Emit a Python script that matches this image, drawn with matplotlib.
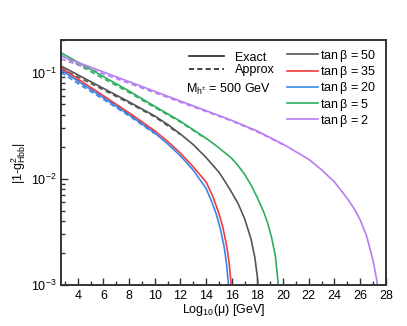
import numpy as np
import matplotlib
matplotlib.use("Agg")
import matplotlib.pyplot as plt
from matplotlib.ticker import MultipleLocator, LogLocator, NullFormatter

plt.rcParams['font.family'] = ['Liberation Sans', 'DejaVu Sans']
plt.rcParams['mathtext.default'] = 'regular'

# exact curves
x_50 = [2.7, 5, 8, 10, 11, 12, 13, 14, 15, 15.5, 16, 16.5, 17, 17.5, 17.8, 18.0, 18.2]
y_50 = [0.115, 0.082, 0.0528, 0.0389, 0.0324, 0.0263, 0.0209, 0.0158, 0.0115,
        0.0093, 0.0074, 0.0058, 0.0042, 0.0027, 0.0018, 0.00117, 0.00056]

x_35 = [2.7, 4, 6, 8, 10, 11, 12, 13, 14, 14.5, 15, 15.3, 15.6, 15.8, 15.95, 16.05]
y_35 = [0.111, 0.087, 0.0603, 0.0417, 0.0282, 0.0224, 0.0174, 0.0129, 0.0093,
        0.0069, 0.0047, 0.0035, 0.00234, 0.0016, 0.0010, 0.0006]

x_20 = [2.7, 4, 6, 8, 10, 11, 12, 13, 14, 14.5, 14.8, 15.1, 15.4, 15.6, 15.75, 15.85]
y_20 = [0.106, 0.083, 0.0577, 0.0399, 0.0269, 0.0213, 0.0164, 0.0120, 0.0081,
        0.0058, 0.0046, 0.0034, 0.0023, 0.00155, 0.00097, 0.0006]

x_5 = [2.7, 5, 8, 10, 12, 13, 14, 15, 16, 16.5, 17, 17.5, 18, 18.5, 18.8, 19.1,
       19.4, 19.6, 19.7]
y_5 = [0.153, 0.107, 0.0668, 0.0479, 0.0347, 0.0288, 0.0240, 0.0195, 0.0155,
       0.0132, 0.0110, 0.0087, 0.0066, 0.0048, 0.0038, 0.0028, 0.00186, 0.00107,
       0.00063]

x_2 = [2.7, 5, 8, 11, 14, 16, 18, 20, 22, 23, 24, 25, 25.5, 26, 26.5, 27, 27.3, 27.5]
y_2 = [0.1425, 0.112, 0.0818, 0.0597, 0.0436, 0.0354, 0.0280, 0.0211, 0.0152,
       0.0121, 0.0093, 0.0065, 0.0053, 0.0041, 0.0029, 0.0017, 0.0011, 0.00067]

# approximate curves (dashed), only where they separate from the exact ones
xa_50 = [2.7, 5, 8, 10, 12]
ya_50 = [0.109, 0.079, 0.0515, 0.0382, 0.0260]
xa_35 = [2.7, 4, 6, 8, 10]
ya_35 = [0.105, 0.0835, 0.0585, 0.0408, 0.0278]
xa_20 = [2.7, 4, 6, 8, 10]
ya_20 = [0.100, 0.079, 0.0558, 0.0390, 0.0265]
xa_5 = [2.7, 5, 8, 10, 12, 14]
ya_5 = [0.145, 0.102, 0.0647, 0.0468, 0.0341, 0.0237]
xa_2 = [2.7, 5, 8, 11, 14, 16, 18, 20]
ya_2 = [0.134, 0.107, 0.079, 0.0582, 0.0428, 0.0349, 0.0276, 0.0209]

labels = [r'tan$\,\beta$ = 50', r'tan$\,\beta$ = 35', r'tan$\,\beta$ = 20',
          r'tan$\,\beta$ = 5', r'tan$\,\beta$ = 2']
colors = ['#555555', '#f03c3c', '#3a86e8', '#2fae62', '#b77cf2']

exact = [(x_50, y_50), (x_35, y_35), (x_20, y_20), (x_5, y_5), (x_2, y_2)]
approx = [(xa_50, ya_50), (xa_35, ya_35), (xa_20, ya_20), (xa_5, ya_5), (xa_2, ya_2)]

fs = 9

fig = plt.figure(figsize=(4.07, 3.26), dpi=100)
ax = fig.add_axes([0.150, 0.126, 0.798, 0.750])

handles = []
for (xa, ya), c in zip(approx, colors):
    ax.plot(xa, ya, color=c, lw=1.2, ls=(0, (3, 2)))
for (xe, ye), c, l in zip(exact, colors, labels):
    h, = ax.plot(xe, ye, color=c, lw=1.2, label=l)
    handles.append(h)

ax.set_yscale('log')
ax.set_xlim(2.7, 28)
ax.set_ylim(1e-3, 0.2)
ax.xaxis.set_major_locator(MultipleLocator(2))
ax.xaxis.set_minor_locator(MultipleLocator(1))
ax.yaxis.set_minor_locator(LogLocator(base=10, subs=np.arange(2, 10)))
ax.yaxis.set_minor_formatter(NullFormatter())
ax.tick_params(which='both', direction='in', labelsize=fs, color='#333333')
ax.tick_params(which='major', length=5, width=1)
ax.tick_params(which='minor', length=3, width=1)
for s in ax.spines.values():
    s.set_linewidth(1.4)
    s.set_color('#333333')

ax.set_xlabel(r'Log$_{10}$($\mu$) [GeV]', fontsize=fs, labelpad=0)
ax.set_ylabel(r'|1-g$^2_{Hbb}$|', fontsize=fs, labelpad=2)

leg2 = ax.legend(handles=handles, loc='upper left', bbox_to_anchor=(0.68, 0.99),
                 frameon=False, fontsize=fs, handlelength=2.45, handletextpad=0.2,
                 labelspacing=0.02, borderaxespad=0)
ax.add_artist(leg2)

k1, = ax.plot([], [], color='#222222', lw=1.2, label='Exact')
k2, = ax.plot([], [], color='#222222', lw=1.2, ls=(0, (3, 2)), label='Approx')
ax.legend(handles=[k1, k2], loc='upper left', bbox_to_anchor=(0.38, 0.975),
          frameon=False, fontsize=fs, handlelength=2.8, handletextpad=0.85,
          labelspacing=0.06, borderaxespad=0)
ax.text(0.385, 0.80, r'M$_{h^{\pm}}$ = 500 GeV', transform=ax.transAxes,
        fontsize=fs, va='center', ha='left')

fig.savefig('out.png', dpi=100)
